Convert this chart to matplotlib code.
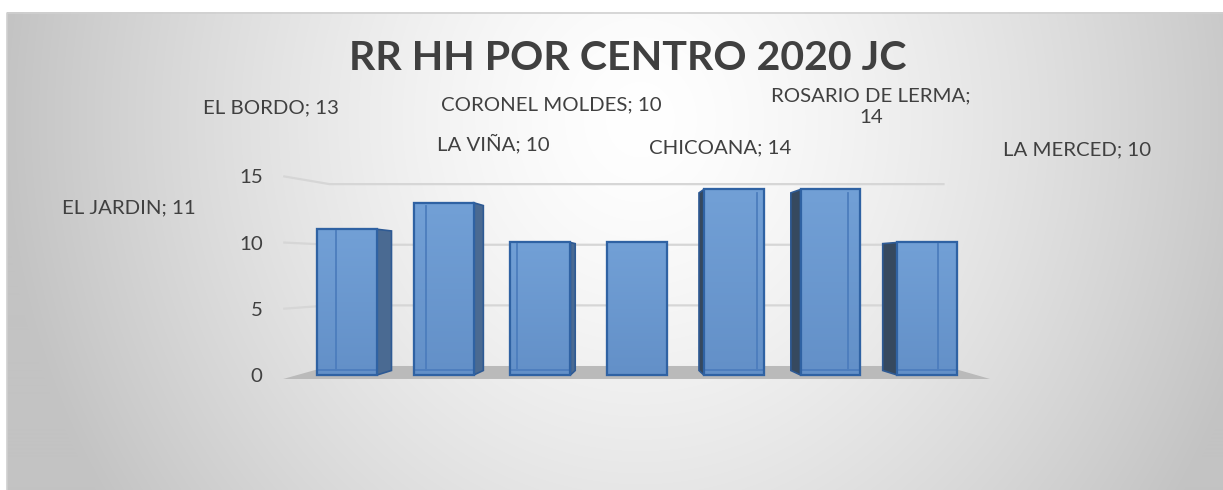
import matplotlib
matplotlib.use("Agg")
import matplotlib.pyplot as plt
import numpy as np

plt.rcParams['font.family'] = ['Lato', 'DejaVu Sans']

# data
centros = ["EL JARDIN", "EL BORDO", "LA VIÑA", "CORONEL MOLDES",
           "CHICOANA", "ROSARIO DE LERMA", "LA MERCED"]
valores = [11, 13, 10, 10, 14, 14, 10]
yticks = [0, 5, 10, 15]
titulo = "RR HH POR CENTRO 2020 JC"

# where the data labels were dragged to (figure pixels: x, baseline y of last line, align)
label_pos = [(62, 213, 'left'), (203, 113, 'left'), (437, 150, 'left'),
             (441, 110, 'left'), (649, 153, 'left'), (871, 123, 'center'),
             (1003, 155, 'left')]

W, H = 1223, 490
fig = plt.figure(figsize=(W / 100, H / 100), dpi=100)

# background with soft radial gradient
bg = fig.add_axes([0, 0, 1, 1])
bg.set_xlim(0, W)
bg.set_ylim(H, 0)
bg.axis('off')
yy, xx = np.mgrid[13:H, 7:W]
r = np.sqrt(((xx - 640) / 640.0) ** 2 + ((yy - 120) / 700.0) ** 2)
shade = np.clip(255 - 60 * r ** 1.4, 195, 255) / 255.0
img = np.dstack([shade, shade, shade])
bg.imshow(img, extent=(7, W, H, 13), aspect='auto', interpolation='bilinear')
bg.plot([7, 7, W], [H, 13, 13], color='#d0d0d0', lw=1.2)

bg.text(628, 70, titulo, ha='center', va='baseline', fontsize=29.6,
        fontweight='bold', color='#404040')

for (lx, ly, ha), c, v in zip(label_pos, centros, valores):
    if ha == 'center':
        txt = f"{c};\n{v}"
    else:
        txt = f"{c}; {v}"
    bg.text(lx, ly, txt, ha=ha, va='baseline', fontsize=14.7, color='#404040',
            multialignment='center', linespacing=1.35)

# main plot area, front plane of the 3D box
x0, x1 = -0.7, 6.7
y0, y1 = -0.5, 16
px_x0 = 347 + 96.7 * x0
px_x1 = 347 + 96.7 * x1
px_ybot = 375 - 13.25 * y0
px_ytop = 375 - 13.25 * y1
ax = fig.add_axes([px_x0 / W, (H - px_ybot) / H, (px_x1 - px_x0) / W,
                   (px_ybot - px_ytop) / H])
ax.set_xlim(x0, x1)
ax.set_ylim(y0, y1)
ax.patch.set_visible(False)
for s in ax.spines.values():
    s.set_visible(False)
ax.set_xticks([])
ax.set_yticks(yticks)
ax.set_yticklabels([str(t) for t in yticks])
ax.tick_params(axis='y', length=0, pad=12, labelsize=14.7, labelcolor='#404040')


def back(v):
    # back wall of the 3D box
    return 0.68 + 0.915 * v


# floor
ax.fill([-0.66, 6.65, 6.18, -0.18], [-0.3, -0.3, back(0), back(0)],
        color='#bababa', zorder=1, lw=0)

# gridlines on the back and side walls
for t in yticks[1:]:
    ax.plot([-0.66, -0.18, 6.18], [t, back(t), back(t)], color='#d6d6d6',
            lw=1.6, zorder=1.5, solid_capstyle='butt')

x = np.arange(len(valores))
wbar = 0.62
mid = (len(valores) - 1) / 2

for i, v in zip(x, valores):
    off = -(i - mid) * 0.05
    left, right = i - wbar / 2, i + wbar / 2
    vb = v + 0.5 * (back(v) - v)
    b0 = 0.5 * back(0)
    if off > 0:
        edge = right
        col = '#4a6a92'
    else:
        edge = left
        col = '#36495f'
    if abs(off) > 1e-6:
        ax.fill([edge, edge + off, edge + off, edge], [0, b0, vb, v],
                color=col, ec='#2e5a94', lw=1.2, zorder=2)

bars = ax.bar(x, valores, width=wbar, color='#6692c9', edgecolor='#2f62a3',
              lw=1.5, zorder=3)

# soft vertical gradient on the front faces
grad = np.linspace(0, 1, 100).reshape(-1, 1)
cmap = matplotlib.colors.LinearSegmentedColormap.from_list('g', ['#6390c8', '#72a0d6'])
for b in bars:
    im = ax.imshow(grad, cmap=cmap,
                   extent=(b.get_x(), b.get_x() + b.get_width(), 0, b.get_height()),
                   origin='lower', aspect='auto', zorder=3.1)
    im.set_clip_path(b)

# back edges showing through the front face
for i, v in zip(x, valores):
    off = -(i - mid) * 0.065
    if abs(off) < 1e-6:
        continue
    left, right = i - wbar / 2, i + wbar / 2
    vb = v + 0.5 * (back(v) - v)
    b0 = 0.5 * back(0)
    inner = left + off if off > 0 else right + off
    ax.plot([inner, inner], [b0, vb], color='#4c7dbd', lw=1.3, zorder=3.5)
    ax.plot([left, right], [b0, b0], color='#4c7dbd', lw=1.3, zorder=3.5)

for b in bars:
    ax.bar(b.get_x() + b.get_width() / 2, b.get_height(), width=b.get_width(),
           fill=False, edgecolor='#2f62a3', lw=1.6, zorder=4)

fig.savefig('out.png', dpi=100)
